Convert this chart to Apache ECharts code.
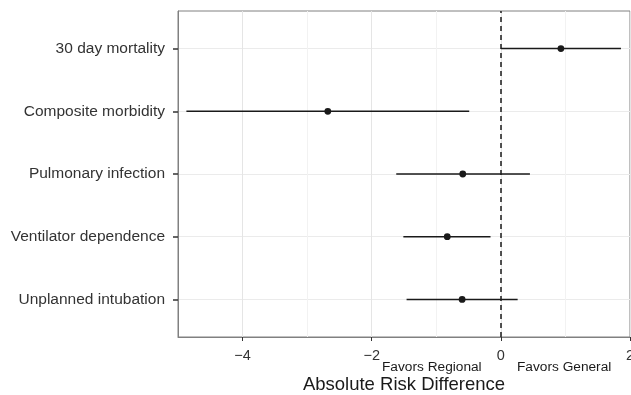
<!DOCTYPE html>
<html>
<head>
<meta charset="utf-8">
<script src="https://cdn.jsdelivr.net/npm/echarts@6/dist/echarts.min.js"></script>
<style>
html,body{margin:0;padding:0;background:#fff;}
#chart{width:631px;height:395px;}
</style>
</head>
<body>
<div id="chart"></div>
<script>
// outcomes, top to bottom
var outcomes = ['30 day mortality','Composite morbidity','Pulmonary infection','Ventilator dependence','Unplanned intubation'];
var estimate = [0.93,-2.68,-0.59,-0.83,-0.60];
var lower = [0.00,-4.87,-1.62,-1.51,-1.46];
var upper = [1.86,-0.49,0.45,-0.16,0.26];
var xTicks = [-4,-2,0,2];

var rows = [];
for(var i=0;i<outcomes.length;i++){
	rows.push([estimate[i], outcomes.length-i, lower[i], upper[i]]);
}
var pos = [1,2,3,4,5];

var ink = '#1a1a1a';
var font = 'Liberation Sans, Arial, sans-serif';

var myChart = echarts.init(document.getElementById('chart'));
var option = {
	animation: false,
	grid: {
		left: 178, right: 1, top: 11, bottom: 58,
		outerBoundsMode: 'none',
		containLabel: false,
		show: true,
		borderColor: '#808080',
		borderWidth: 1,
		backgroundColor: '#fff'
	},
	xAxis: [{
		// minor grid lines
		type: 'value', min: -5, max: 2, interval: 1,
		position: 'bottom',
		axisLine: {show: false},
		axisTick: {show: false},
		axisLabel: {show: false},
		splitLine: {lineStyle: {color: '#f2f2f2', width: 1}}
	},{
		type: 'value', min: -5, max: 2,
		position: 'bottom',
		axisLine: {show: true, onZero: false, lineStyle: {color: '#808080'}},
		axisTick: {show: true, length: 4, customValues: xTicks, lineStyle: {color: '#333'}},
		axisLabel: {
			customValues: xTicks, margin: 11,
			color: '#333', fontSize: 14.5, fontFamily: font,
			formatter: function(v){ return v < 0 ? '\u2212' + Math.abs(v) : String(v); }
		},
		splitLine: {show: true, lineStyle: {color: '#e5e5e5', width: 1}},
		name: 'Absolute Risk Difference',
		nameLocation: 'middle',
		nameGap: 38,
		nameTextStyle: {color: '#1a1a1a', fontSize: 18.5, fontFamily: font}
	}],
	yAxis: {
		type: 'value', min: 0.4, max: 5.6,
		axisLine: {show: true, onZero: false, lineStyle: {color: '#808080'}},
		axisTick: {show: true, length: 5, customValues: pos, lineStyle: {color: '#333', width: 1.5}},
		axisLabel: {
			customValues: pos, margin: 13,
			color: '#333', fontSize: 15.5, fontFamily: font,
			formatter: function(v){ return outcomes[outcomes.length - Math.round(v)] || ''; }
		},
		splitLine: {show: true, lineStyle: {color: '#ebebeb', width: 1}}
	},
	graphic: [
		{type: 'text', left: 382, top: 360, style: {text: 'Favors Regional', fill: '#1a1a1a', font: '13.7px ' + font}},
		{type: 'text', left: 517, top: 360, style: {text: 'Favors General', fill: '#1a1a1a', font: '13.7px ' + font}}
	],
	series: [{
		type: 'custom',
		xAxisIndex: 1,
		data: rows,
		encode: {x: [0,2,3], y: 1},
		renderItem: function(params, api){
			var y = api.value(1);
			var a = api.coord([api.value(2), y]);
			var b = api.coord([api.value(3), y]);
			var c = api.coord([api.value(0), y]);
			return {
				type: 'group',
				children: [{
					type: 'line',
					shape: {x1: a[0], y1: a[1], x2: b[0], y2: b[1]},
					style: {stroke: ink, lineWidth: 1.5}
				},{
					type: 'circle',
					shape: {cx: c[0], cy: c[1], r: 3.4},
					style: {fill: ink}
				}]
			};
		},
		markLine: {
			silent: true,
			symbol: 'none',
			label: {show: false},
			lineStyle: {color: ink, type: [5,4], width: 1.5},
			data: [{xAxis: 0}]
		},
		z: 5
	}]
};
myChart.setOption(option);
</script>
</body>
</html>
